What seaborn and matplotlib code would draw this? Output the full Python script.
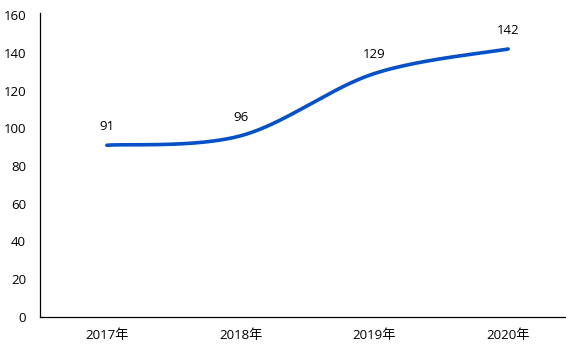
import numpy as np
import pandas as pd
import matplotlib
matplotlib.use("Agg")
import matplotlib.pyplot as plt
import seaborn as sns

categories = ["2017年", "2018年", "2019年", "2020年"]
values = [91, 96, 129, 142]
yticks = [0, 20, 40, 60, 80, 100, 120, 140, 160]

sns.set_theme(style="white")
plt.rcParams['font.family'] = ['Open Sans', 'Noto Sans CJK SC', 'DejaVu Sans']

fig = plt.figure(figsize=(5.66, 3.56), dpi=100)
ax = fig.add_axes([40/566, 1-317/356, 525/566, 302/356])

# Catmull-Rom smoothing (Excel-like smoothed line)
x = np.arange(len(values), dtype=float)
y = np.array(values, dtype=float)
px = np.concatenate([[x[0]], x, [x[-1]]])
py = np.concatenate([[y[0]], y, [y[-1]]])
xs, ys = [], []
t = np.linspace(0, 1, 60)
for i in range(1, len(px) - 2):
    p0, p1, p2, p3 = (np.array([px[j], py[j]]) for j in (i-1, i, i+1, i+2))
    c1 = p1 + (p2 - p0) / 6
    c2 = p2 - (p3 - p1) / 6
    b = ((1-t)**3)[:, None]*p1 + (3*(1-t)**2*t)[:, None]*c1 + (3*(1-t)*t**2)[:, None]*c2 + (t**3)[:, None]*p2
    xs.extend(b[:, 0]); ys.extend(b[:, 1])
smooth = pd.DataFrame({"x": xs, "y": ys})
sns.lineplot(data=smooth, x="x", y="y", ax=ax, color="#0650c8", linewidth=2.6,
             sort=False, estimator=None, solid_capstyle="round")

for xi, v in zip(x, values):
    ax.annotate(str(v), (xi, v), xytext=(0, 13.5), textcoords="offset points",
                ha="center", va="center", fontsize=9.5, color="black")

ax.set_xlim(-0.5, 3.425)
ax.set_ylim(0, 160)
ax.set_xticks(x)
ax.set_xticklabels(categories)
ax.set_yticks(yticks)
ax.set_xlabel("")
ax.set_ylabel("")
ax.tick_params(axis="both", length=0, labelsize=9.5, colors="black")
ax.tick_params(axis="y", pad=10)
ax.tick_params(axis="x", pad=9)
for s in ["top", "right"]:
    ax.spines[s].set_visible(False)
for s in ["left", "bottom"]:
    ax.spines[s].set_color("black")
    ax.spines[s].set_linewidth(0.9)
ax.spines["left"].set_bounds(0, 161)
ax.grid(False)

fig.savefig("out.png", dpi=100)
